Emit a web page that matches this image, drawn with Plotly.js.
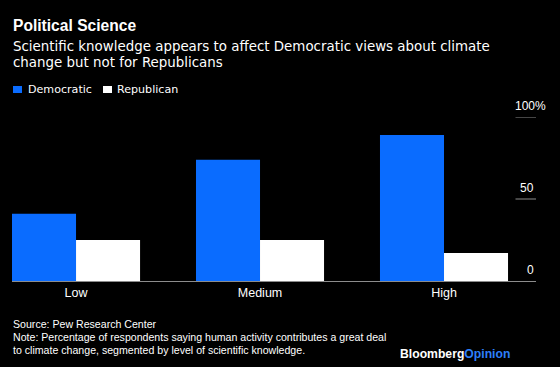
<!DOCTYPE html>
<html>
<head>
<meta charset="utf-8">
<script src="https://cdn.plot.ly/plotly-3.0.1.min.js"></script>
<style>html,body{margin:0;padding:0;background:#000;}#chart{width:560px;height:367px;}</style>
</head>
<body>
<div id="chart"></div>
<script>
const categories = ['Low', 'Medium', 'High'];
const democratic = [41, 74, 89];
const republican = [25, 25, 17];
const yTickValues = [0, 50, 100];
const yTickLabels = ['0', '50', '100%'];
const seriesNames = ['Democratic', 'Republican'];

const BLUE = '#0a6cff';
const FONT = 'Liberation Sans, Arial, sans-serif';
const WIDE = 'DejaVu Sans, sans-serif';
const W = 560, H = 367, L = 12, R = 536, T = 117, B = 281;
const px = x => (x - L) / (R - L);
const py = y => (B - y) / (B - T);

const traces = [
  {type: 'bar', x: categories, y: democratic, name: seriesNames[0], marker: {color: BLUE, line: {width: 0}}, hoverinfo: 'none'},
  {type: 'bar', x: categories, y: republican, name: seriesNames[1], marker: {color: '#ffffff', line: {width: 0}}, hoverinfo: 'none'}
];

const ann = [];
const txt = (text, x, y, size, family, opts) => ann.push(Object.assign({
  text: text, xref: 'paper', yref: 'paper', x: px(x), y: py(y), xanchor: 'left', yanchor: 'middle',
  showarrow: false, font: {family: family, size: size, color: '#ffffff'}
}, opts || {}));

txt('<b>Political Science</b>', 11, 26, 15.6, FONT);
txt('Scientific knowledge appears to affect Democratic views about climate', 11, 46, 13.4, WIDE);
txt('change but not for Republicans', 11, 62.5, 13.4, WIDE);
txt(seriesNames[0], 26, 89.5, 11.1, WIDE);
txt(seriesNames[1], 115, 89.5, 11.1, WIDE);
txt('Source: Pew Research Center', 11, 324, 10.6, FONT);
txt('Note: Percentage of respondents saying human activity contributes a great deal', 11, 337, 10.6, FONT);
txt('to climate change, segmented by level of scientific knowledge.', 11, 349.5, 10.6, FONT);
txt('<b>Bloomberg</b><b><span style="color:#2d7ff9">Opinion</span></b>', 512, 354, 12.2, FONT, {xanchor: 'right'});

yTickValues.forEach((v, i) => {
  const lab = yTickLabels[i];
  ann.push({text: lab, xref: 'paper', yref: 'y', x: 1, y: v, xanchor: 'right', yanchor: 'middle',
    yshift: 11, xshift: lab.indexOf('%') >= 0 ? 12 : 0, showarrow: false,
    font: {family: FONT, size: 12, color: '#ffffff'}});
});

const shapes = [];
yTickValues.forEach(v => {
  if (v > 0) shapes.push({type: 'line', xref: 'paper', yref: 'y', x0: px(515.5), x1: 1, y0: v, y1: v,
    line: {color: '#8c8c8c', width: 1}});
});
shapes.push({type: 'rect', xref: 'paper', yref: 'paper', x0: px(13), x1: px(22), y0: py(93), y1: py(86),
  fillcolor: BLUE, line: {width: 0}});
shapes.push({type: 'rect', xref: 'paper', yref: 'paper', x0: px(103), x1: px(112), y0: py(93), y1: py(86),
  fillcolor: '#ffffff', line: {width: 0}});

const layout = {
  width: W, height: H,
  paper_bgcolor: '#000000', plot_bgcolor: '#000000',
  margin: {l: L, r: W - R, t: T, b: H - B, pad: 0},
  showlegend: false,
  barmode: 'group', bargap: 0.304, bargroupgap: 0,
  font: {family: FONT, color: '#ffffff'},
  xaxis: {type: 'category', range: [-0.348, 2.5], showgrid: false, zeroline: false,
    showline: true, linecolor: '#8c8c8c', linewidth: 1, layer: 'below traces',
    ticks: '', tickfont: {family: FONT, size: 12.5, color: '#ffffff'}, fixedrange: true},
  yaxis: {range: [0, 100], showgrid: false, zeroline: false, showline: false,
    showticklabels: false, ticks: '', fixedrange: true},
  annotations: ann,
  shapes: shapes
};

Plotly.newPlot('chart', traces, layout, {displayModeBar: false, staticPlot: true});
</script>
</body>
</html>
